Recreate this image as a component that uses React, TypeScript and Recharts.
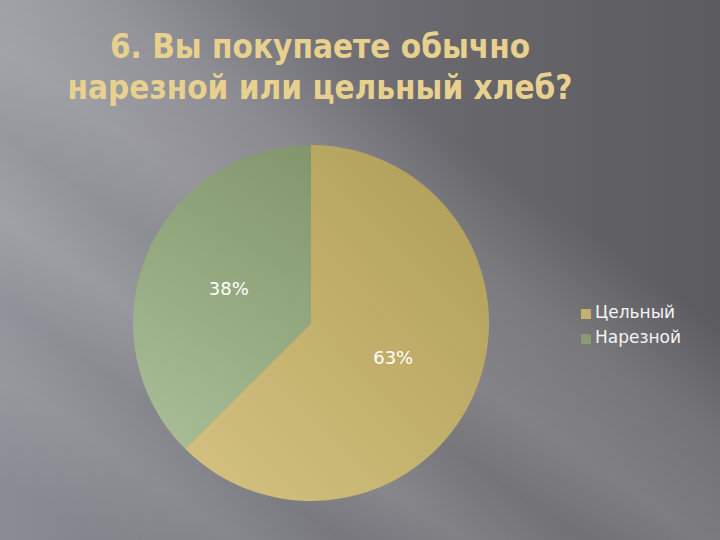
import { PieChart, Pie, Cell, Legend } from "recharts";

// ── Data ────────────────────────────────────────────────────────────────────

const categories = ["Цельный", "Нарезной"];
const shares = [62.5, 37.5];
const titleLines = ["6. Вы покупаете обычно", "нарезной или цельный хлеб?"];

const sliceFills = ["url(#goldGrad)", "url(#greenGrad)"];
const legendColors = ["#c9b56c", "#93a67d"];

const data = categories.map((name, i) => ({ name, value: shares[i] }));

const RAD = Math.PI / 180;

function renderLabel(props: any) {
  const { cx, cy, midAngle, outerRadius, percent } = props;
  const r = outerRadius * 0.5;
  const x = cx + r * Math.cos(-midAngle * RAD);
  const y = cy + r * Math.sin(-midAngle * RAD);
  return (
    <text
      x={x}
      y={y}
      fill="#ffffff"
      textAnchor="middle"
      dominantBaseline="central"
      style={{ fontFamily: "DejaVu Sans", fontSize: 18 }}
    >
      {`${Math.round(percent * 100)}%`}
    </text>
  );
}

export default function App() {
  return (
    <div
      style={{
        position: "absolute",
        left: 0,
        top: 0,
        width: 720,
        height: 540,
        overflow: "hidden",
        background: [
          "linear-gradient(35deg, rgba(255,255,255,0) 6%, rgba(255,255,255,0.10) 16%, rgba(255,255,255,0.05) 23%, rgba(255,255,255,0.18) 31%, rgba(255,255,255,0.10) 39%, rgba(255,255,255,0.20) 47%, rgba(255,255,255,0.15) 58%, rgba(255,255,255,0) 69%)",
          "linear-gradient(to right, #8c8d94 0%, #77777e 35%, #66666b 65%, #5b5b60 100%)",
        ].join(","),
      }}
    >
      <div
        style={{
          position: "absolute",
          left: 0,
          top: 26,
          width: 640,
          textAlign: "center",
          fontFamily: "'DejaVu Sans Condensed', 'DejaVu Sans'",
          fontStretch: "condensed",
          fontWeight: "bold",
          fontSize: 33,
          lineHeight: "41px",
          color: "#e8d08e",
        }}
      >
        {titleLines.map((t) => (
          <div key={t}>{t}</div>
        ))}
      </div>
      <PieChart
        width={720}
        height={540}
        margin={{ top: 0, right: 0, bottom: 0, left: 0 }}
        style={{ position: "absolute", left: 0, top: 0 }}
      >
        <defs>
          <linearGradient id="goldGrad" gradientUnits="userSpaceOnUse" x1={150} y1={480} x2={470} y2={170}>
            <stop offset="0%" stopColor="#d6c383" />
            <stop offset="100%" stopColor="#b09f58" />
          </linearGradient>
          <linearGradient id="greenGrad" gradientUnits="userSpaceOnUse" x1={140} y1={430} x2={320} y2={150}>
            <stop offset="0%" stopColor="#a8bd96" />
            <stop offset="100%" stopColor="#82956b" />
          </linearGradient>
        </defs>
        <Pie
          data={data}
          dataKey="value"
          nameKey="name"
          cx={311}
          cy={323}
          outerRadius={178}
          startAngle={90}
          endAngle={-270}
          stroke="none"
          label={renderLabel}
          labelLine={false}
          isAnimationActive={false}
        >
          {data.map((d, i) => (
            <Cell key={d.name} fill={sliceFills[i]} />
          ))}
        </Pie>
        <Legend
          layout="vertical"
          align="right"
          verticalAlign="top"
          iconType="square"
          iconSize={10}
          itemSorter={(item: any) => categories.indexOf(item.value)}
          payload={data.map((d, i) => ({ value: d.name, type: "square", color: legendColors[i], id: d.name }))}
          formatter={(value: string) => (
            <span style={{ color: "#f4f4f4", fontFamily: "DejaVu Sans", fontSize: 17 }}>{value}</span>
          )}
          wrapperStyle={{ left: 581, top: 300, width: 139, lineHeight: "24px" }}
        />
      </PieChart>
    </div>
  );
}
